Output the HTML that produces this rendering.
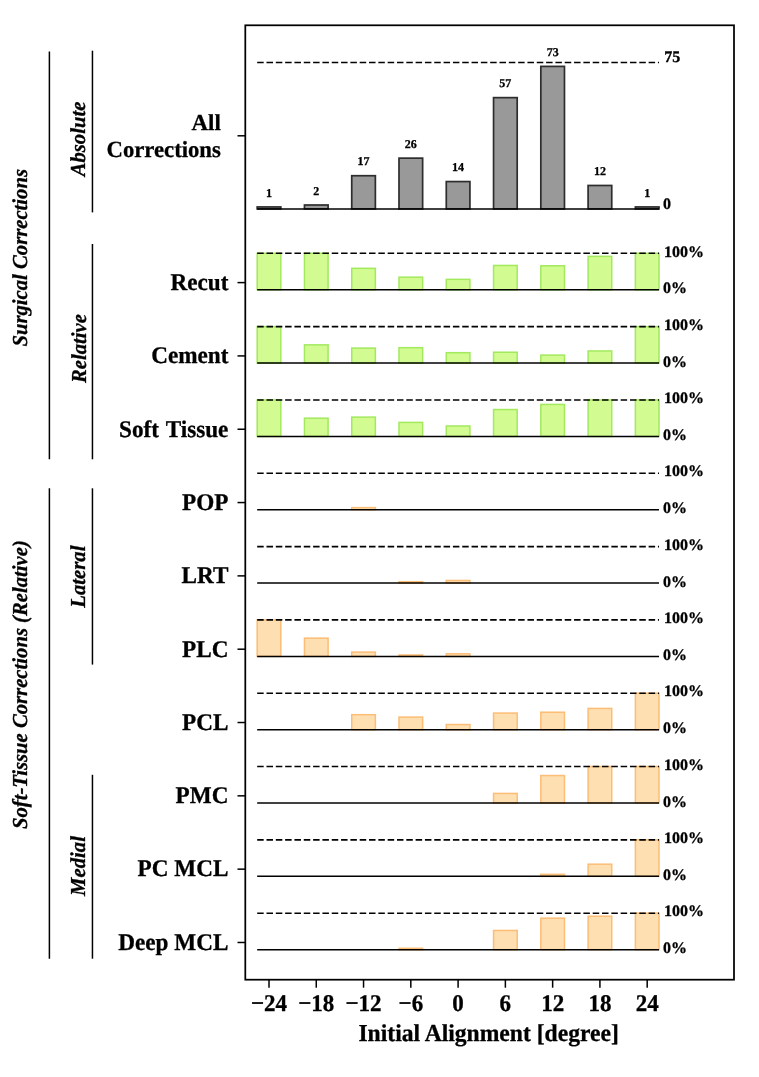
<!DOCTYPE html>
<html><head><meta charset="utf-8"><style>
html,body{margin:0;padding:0;background:#fff;}
svg{display:block;will-change:transform;}
text{font-family:"Liberation Serif",serif;font-weight:bold;fill:#000;text-rendering:geometricPrecision;stroke:#000;stroke-width:0.3px;}
.tk{font-size:23px;}
.yl{font-size:23.2px;}
.ws{word-spacing:1.3px;}
.num{font-size:12px;}
.pct{font-size:16px;}
.r75{font-size:16px;}
.r0{font-size:16px;}
.grp{font-size:20.7px;font-style:italic;}
.dash{stroke:#000;stroke-width:1.6;stroke-dasharray:6.5 2.82;}
.base{stroke:#000;stroke-width:1.5;}
</style></head><body>
<svg width="759" height="1077" viewBox="0 0 759 1077">
<rect x="245.3" y="25.3" width="488.7" height="954.4" fill="none" stroke="#000" stroke-width="1.75"/>
<line x1="269.00" y1="980" x2="269.00" y2="987.7" stroke="#000" stroke-width="1.5"/>
<text transform="translate(269.00,1011.10) scale(1,1.04)" text-anchor="middle" class="tk">−24</text>
<line x1="316.27" y1="980" x2="316.27" y2="987.7" stroke="#000" stroke-width="1.5"/>
<text transform="translate(316.27,1011.10) scale(1,1.04)" text-anchor="middle" class="tk">−18</text>
<line x1="363.55" y1="980" x2="363.55" y2="987.7" stroke="#000" stroke-width="1.5"/>
<text transform="translate(363.55,1011.10) scale(1,1.04)" text-anchor="middle" class="tk">−12</text>
<line x1="410.82" y1="980" x2="410.82" y2="987.7" stroke="#000" stroke-width="1.5"/>
<text transform="translate(410.82,1011.10) scale(1,1.04)" text-anchor="middle" class="tk">−6</text>
<line x1="458.10" y1="980" x2="458.10" y2="987.7" stroke="#000" stroke-width="1.5"/>
<text transform="translate(458.10,1011.10) scale(1,1.04)" text-anchor="middle" class="tk">0</text>
<line x1="505.37" y1="980" x2="505.37" y2="987.7" stroke="#000" stroke-width="1.5"/>
<text transform="translate(505.37,1011.10) scale(1,1.04)" text-anchor="middle" class="tk">6</text>
<line x1="552.64" y1="980" x2="552.64" y2="987.7" stroke="#000" stroke-width="1.5"/>
<text transform="translate(552.64,1011.10) scale(1,1.04)" text-anchor="middle" class="tk">12</text>
<line x1="599.92" y1="980" x2="599.92" y2="987.7" stroke="#000" stroke-width="1.5"/>
<text transform="translate(599.92,1011.10) scale(1,1.04)" text-anchor="middle" class="tk">18</text>
<line x1="647.19" y1="980" x2="647.19" y2="987.7" stroke="#000" stroke-width="1.5"/>
<text transform="translate(647.19,1011.10) scale(1,1.04)" text-anchor="middle" class="tk">24</text>
<text transform="translate(488.60,1041.30) scale(1,1.03)" text-anchor="middle" class="tk" style="font-size:23.6px">Initial Alignment [degree]</text>
<line x1="257.18" y1="62.5" x2="659.01" y2="62.5" class="dash"/>
<rect x="257.18" y="206.95" width="23.64" height="1.95" fill="#999" stroke="#2d2d2d" stroke-width="1.7"/>
<text x="269.00" y="196.65" text-anchor="middle" class="num">1</text>
<rect x="304.46" y="205.00" width="23.64" height="3.90" fill="#999" stroke="#2d2d2d" stroke-width="1.7"/>
<text x="316.27" y="194.70" text-anchor="middle" class="num">2</text>
<rect x="351.73" y="175.72" width="23.64" height="33.18" fill="#999" stroke="#2d2d2d" stroke-width="1.7"/>
<text x="363.55" y="165.42" text-anchor="middle" class="num">17</text>
<rect x="399.00" y="158.15" width="23.64" height="50.75" fill="#999" stroke="#2d2d2d" stroke-width="1.7"/>
<text x="410.82" y="147.85" text-anchor="middle" class="num">26</text>
<rect x="446.28" y="181.57" width="23.64" height="27.33" fill="#999" stroke="#2d2d2d" stroke-width="1.7"/>
<text x="458.10" y="171.27" text-anchor="middle" class="num">14</text>
<rect x="493.55" y="97.64" width="23.64" height="111.26" fill="#999" stroke="#2d2d2d" stroke-width="1.7"/>
<text x="505.37" y="87.34" text-anchor="middle" class="num">57</text>
<rect x="540.83" y="66.40" width="23.64" height="142.50" fill="#999" stroke="#2d2d2d" stroke-width="1.7"/>
<text x="552.64" y="56.10" text-anchor="middle" class="num">73</text>
<rect x="588.10" y="185.48" width="23.64" height="23.42" fill="#999" stroke="#2d2d2d" stroke-width="1.7"/>
<text x="599.92" y="175.18" text-anchor="middle" class="num">12</text>
<rect x="635.37" y="206.95" width="23.64" height="1.95" fill="#999" stroke="#2d2d2d" stroke-width="1.7"/>
<text x="647.19" y="196.65" text-anchor="middle" class="num">1</text>
<line x1="257.18" y1="208.9" x2="659.01" y2="208.9" class="base"/>
<text x="664.30" y="62.20" class="r75">75</text>
<text x="663.00" y="209.00" class="r0">0</text>
<line x1="237.5" y1="135.8" x2="245.3" y2="135.8" stroke="#000" stroke-width="1.5"/>
<text x="220.80" y="129.80" text-anchor="end" class="yl" style="font-size:22.9px">All</text>
<text transform="translate(220.80,156.80) scale(1,1.02)" text-anchor="end" class="yl" style="font-size:22.7px">Corrections</text>
<rect x="257.18" y="253.30" width="23.64" height="36.50" fill="#d2fc92" stroke="#a2e95e" stroke-width="1.5"/>
<rect x="304.46" y="253.30" width="23.64" height="36.50" fill="#d2fc92" stroke="#a2e95e" stroke-width="1.5"/>
<rect x="351.73" y="268.33" width="23.64" height="21.47" fill="#d2fc92" stroke="#a2e95e" stroke-width="1.5"/>
<rect x="399.00" y="277.17" width="23.64" height="12.63" fill="#d2fc92" stroke="#a2e95e" stroke-width="1.5"/>
<rect x="446.28" y="279.37" width="23.64" height="10.43" fill="#d2fc92" stroke="#a2e95e" stroke-width="1.5"/>
<rect x="493.55" y="265.47" width="23.64" height="24.33" fill="#d2fc92" stroke="#a2e95e" stroke-width="1.5"/>
<rect x="540.83" y="265.80" width="23.64" height="24.00" fill="#d2fc92" stroke="#a2e95e" stroke-width="1.5"/>
<rect x="588.10" y="256.34" width="23.64" height="33.46" fill="#d2fc92" stroke="#a2e95e" stroke-width="1.5"/>
<rect x="635.37" y="253.30" width="23.64" height="36.50" fill="#d2fc92" stroke="#a2e95e" stroke-width="1.5"/>
<line x1="257.18" y1="253.30" x2="659.01" y2="253.30" class="dash"/>
<line x1="257.18" y1="289.80" x2="659.01" y2="289.80" class="base"/>
<text x="664.00" y="256.50" class="pct">100%</text>
<text x="663.00" y="293.40" class="pct">0%</text>
<line x1="237.5" y1="282.60" x2="245.3" y2="282.60" stroke="#000" stroke-width="1.5"/>
<text transform="translate(228.40,289.90) scale(1,1.03)" text-anchor="end" class="yl">Recut</text>
<rect x="257.18" y="326.62" width="23.64" height="36.50" fill="#d2fc92" stroke="#a2e95e" stroke-width="1.5"/>
<rect x="304.46" y="344.87" width="23.64" height="18.25" fill="#d2fc92" stroke="#a2e95e" stroke-width="1.5"/>
<rect x="351.73" y="348.09" width="23.64" height="15.03" fill="#d2fc92" stroke="#a2e95e" stroke-width="1.5"/>
<rect x="399.00" y="347.68" width="23.64" height="15.44" fill="#d2fc92" stroke="#a2e95e" stroke-width="1.5"/>
<rect x="446.28" y="352.69" width="23.64" height="10.43" fill="#d2fc92" stroke="#a2e95e" stroke-width="1.5"/>
<rect x="493.55" y="352.23" width="23.64" height="10.89" fill="#d2fc92" stroke="#a2e95e" stroke-width="1.5"/>
<rect x="540.83" y="355.12" width="23.64" height="8.00" fill="#d2fc92" stroke="#a2e95e" stroke-width="1.5"/>
<rect x="588.10" y="350.95" width="23.64" height="12.17" fill="#d2fc92" stroke="#a2e95e" stroke-width="1.5"/>
<rect x="635.37" y="326.62" width="23.64" height="36.50" fill="#d2fc92" stroke="#a2e95e" stroke-width="1.5"/>
<line x1="257.18" y1="326.62" x2="659.01" y2="326.62" class="dash"/>
<line x1="257.18" y1="363.12" x2="659.01" y2="363.12" class="base"/>
<text x="664.00" y="329.82" class="pct">100%</text>
<text x="663.00" y="366.72" class="pct">0%</text>
<line x1="237.5" y1="355.92" x2="245.3" y2="355.92" stroke="#000" stroke-width="1.5"/>
<text transform="translate(228.40,363.22) scale(1,1.03)" text-anchor="end" class="yl">Cement</text>
<rect x="257.18" y="399.94" width="23.64" height="36.50" fill="#d2fc92" stroke="#a2e95e" stroke-width="1.5"/>
<rect x="304.46" y="418.19" width="23.64" height="18.25" fill="#d2fc92" stroke="#a2e95e" stroke-width="1.5"/>
<rect x="351.73" y="417.12" width="23.64" height="19.32" fill="#d2fc92" stroke="#a2e95e" stroke-width="1.5"/>
<rect x="399.00" y="422.40" width="23.64" height="14.04" fill="#d2fc92" stroke="#a2e95e" stroke-width="1.5"/>
<rect x="446.28" y="426.01" width="23.64" height="10.43" fill="#d2fc92" stroke="#a2e95e" stroke-width="1.5"/>
<rect x="493.55" y="409.55" width="23.64" height="26.89" fill="#d2fc92" stroke="#a2e95e" stroke-width="1.5"/>
<rect x="540.83" y="404.44" width="23.64" height="32.00" fill="#d2fc92" stroke="#a2e95e" stroke-width="1.5"/>
<rect x="588.10" y="399.94" width="23.64" height="36.50" fill="#d2fc92" stroke="#a2e95e" stroke-width="1.5"/>
<rect x="635.37" y="399.94" width="23.64" height="36.50" fill="#d2fc92" stroke="#a2e95e" stroke-width="1.5"/>
<line x1="257.18" y1="399.94" x2="659.01" y2="399.94" class="dash"/>
<line x1="257.18" y1="436.44" x2="659.01" y2="436.44" class="base"/>
<text x="664.00" y="403.14" class="pct">100%</text>
<text x="663.00" y="440.04" class="pct">0%</text>
<line x1="237.5" y1="429.24" x2="245.3" y2="429.24" stroke="#000" stroke-width="1.5"/>
<text transform="translate(228.40,436.54) scale(1,1.03)" text-anchor="end" class="yl ws">Soft Tissue</text>
<rect x="351.73" y="507.61" width="23.64" height="2.15" fill="#fedfb1" stroke="#fcbd76" stroke-width="1.5"/>
<line x1="257.18" y1="473.26" x2="659.01" y2="473.26" class="dash"/>
<line x1="257.18" y1="509.76" x2="659.01" y2="509.76" class="base"/>
<text x="664.00" y="476.46" class="pct">100%</text>
<text x="663.00" y="513.36" class="pct">0%</text>
<line x1="237.5" y1="502.56" x2="245.3" y2="502.56" stroke="#000" stroke-width="1.5"/>
<text transform="translate(228.40,509.86) scale(1,1.03)" text-anchor="end" class="yl">POP</text>
<rect x="399.00" y="581.68" width="23.64" height="1.40" fill="#fedfb1" stroke="#fcbd76" stroke-width="1.5"/>
<rect x="446.28" y="580.47" width="23.64" height="2.61" fill="#fedfb1" stroke="#fcbd76" stroke-width="1.5"/>
<line x1="257.18" y1="546.58" x2="659.01" y2="546.58" class="dash"/>
<line x1="257.18" y1="583.08" x2="659.01" y2="583.08" class="base"/>
<text x="664.00" y="549.78" class="pct">100%</text>
<text x="663.00" y="586.68" class="pct">0%</text>
<line x1="237.5" y1="575.88" x2="245.3" y2="575.88" stroke="#000" stroke-width="1.5"/>
<text transform="translate(228.40,583.18) scale(1,1.03)" text-anchor="end" class="yl">LRT</text>
<rect x="257.18" y="619.90" width="23.64" height="36.50" fill="#fedfb1" stroke="#fcbd76" stroke-width="1.5"/>
<rect x="304.46" y="638.15" width="23.64" height="18.25" fill="#fedfb1" stroke="#fcbd76" stroke-width="1.5"/>
<rect x="351.73" y="652.11" width="23.64" height="4.29" fill="#fedfb1" stroke="#fcbd76" stroke-width="1.5"/>
<rect x="399.00" y="655.00" width="23.64" height="1.40" fill="#fedfb1" stroke="#fcbd76" stroke-width="1.5"/>
<rect x="446.28" y="653.79" width="23.64" height="2.61" fill="#fedfb1" stroke="#fcbd76" stroke-width="1.5"/>
<line x1="257.18" y1="619.90" x2="659.01" y2="619.90" class="dash"/>
<line x1="257.18" y1="656.40" x2="659.01" y2="656.40" class="base"/>
<text x="664.00" y="623.10" class="pct">100%</text>
<text x="663.00" y="660.00" class="pct">0%</text>
<line x1="237.5" y1="649.20" x2="245.3" y2="649.20" stroke="#000" stroke-width="1.5"/>
<text transform="translate(228.40,656.50) scale(1,1.03)" text-anchor="end" class="yl">PLC</text>
<rect x="351.73" y="714.69" width="23.64" height="15.03" fill="#fedfb1" stroke="#fcbd76" stroke-width="1.5"/>
<rect x="399.00" y="717.09" width="23.64" height="12.63" fill="#fedfb1" stroke="#fcbd76" stroke-width="1.5"/>
<rect x="446.28" y="724.51" width="23.64" height="5.21" fill="#fedfb1" stroke="#fcbd76" stroke-width="1.5"/>
<rect x="493.55" y="713.07" width="23.64" height="16.65" fill="#fedfb1" stroke="#fcbd76" stroke-width="1.5"/>
<rect x="540.83" y="712.22" width="23.64" height="17.50" fill="#fedfb1" stroke="#fcbd76" stroke-width="1.5"/>
<rect x="588.10" y="708.43" width="23.64" height="21.29" fill="#fedfb1" stroke="#fcbd76" stroke-width="1.5"/>
<rect x="635.37" y="693.22" width="23.64" height="36.50" fill="#fedfb1" stroke="#fcbd76" stroke-width="1.5"/>
<line x1="257.18" y1="693.22" x2="659.01" y2="693.22" class="dash"/>
<line x1="257.18" y1="729.72" x2="659.01" y2="729.72" class="base"/>
<text x="664.00" y="696.42" class="pct">100%</text>
<text x="663.00" y="733.32" class="pct">0%</text>
<line x1="237.5" y1="722.52" x2="245.3" y2="722.52" stroke="#000" stroke-width="1.5"/>
<text transform="translate(228.40,729.82) scale(1,1.03)" text-anchor="end" class="yl">PCL</text>
<rect x="493.55" y="793.43" width="23.64" height="9.61" fill="#fedfb1" stroke="#fcbd76" stroke-width="1.5"/>
<rect x="540.83" y="775.54" width="23.64" height="27.50" fill="#fedfb1" stroke="#fcbd76" stroke-width="1.5"/>
<rect x="588.10" y="766.54" width="23.64" height="36.50" fill="#fedfb1" stroke="#fcbd76" stroke-width="1.5"/>
<rect x="635.37" y="766.54" width="23.64" height="36.50" fill="#fedfb1" stroke="#fcbd76" stroke-width="1.5"/>
<line x1="257.18" y1="766.54" x2="659.01" y2="766.54" class="dash"/>
<line x1="257.18" y1="803.04" x2="659.01" y2="803.04" class="base"/>
<text x="664.00" y="769.74" class="pct">100%</text>
<text x="663.00" y="806.64" class="pct">0%</text>
<line x1="237.5" y1="795.84" x2="245.3" y2="795.84" stroke="#000" stroke-width="1.5"/>
<text transform="translate(228.40,803.14) scale(1,1.03)" text-anchor="end" class="yl">PMC</text>
<rect x="540.83" y="874.36" width="23.64" height="2.00" fill="#fedfb1" stroke="#fcbd76" stroke-width="1.5"/>
<rect x="588.10" y="864.19" width="23.64" height="12.17" fill="#fedfb1" stroke="#fcbd76" stroke-width="1.5"/>
<rect x="635.37" y="839.86" width="23.64" height="36.50" fill="#fedfb1" stroke="#fcbd76" stroke-width="1.5"/>
<line x1="257.18" y1="839.86" x2="659.01" y2="839.86" class="dash"/>
<line x1="257.18" y1="876.36" x2="659.01" y2="876.36" class="base"/>
<text x="664.00" y="843.06" class="pct">100%</text>
<text x="663.00" y="879.96" class="pct">0%</text>
<line x1="237.5" y1="869.16" x2="245.3" y2="869.16" stroke="#000" stroke-width="1.5"/>
<text transform="translate(228.40,876.46) scale(1,1.03)" text-anchor="end" class="yl">PC MCL</text>
<rect x="399.00" y="948.28" width="23.64" height="1.40" fill="#fedfb1" stroke="#fcbd76" stroke-width="1.5"/>
<rect x="493.55" y="930.47" width="23.64" height="19.21" fill="#fedfb1" stroke="#fcbd76" stroke-width="1.5"/>
<rect x="540.83" y="918.18" width="23.64" height="31.50" fill="#fedfb1" stroke="#fcbd76" stroke-width="1.5"/>
<rect x="588.10" y="916.22" width="23.64" height="33.46" fill="#fedfb1" stroke="#fcbd76" stroke-width="1.5"/>
<rect x="635.37" y="913.18" width="23.64" height="36.50" fill="#fedfb1" stroke="#fcbd76" stroke-width="1.5"/>
<line x1="257.18" y1="913.18" x2="659.01" y2="913.18" class="dash"/>
<line x1="257.18" y1="949.68" x2="659.01" y2="949.68" class="base"/>
<text x="664.00" y="916.38" class="pct">100%</text>
<text x="663.00" y="953.28" class="pct">0%</text>
<line x1="237.5" y1="942.48" x2="245.3" y2="942.48" stroke="#000" stroke-width="1.5"/>
<text transform="translate(228.40,949.78) scale(1,1.03)" text-anchor="end" class="yl">Deep MCL</text>
<line x1="49.4" y1="51.5" x2="49.4" y2="459.2" stroke="#000" stroke-width="1.5"/>
<line x1="49.4" y1="488.3" x2="49.4" y2="958.7" stroke="#000" stroke-width="1.5"/>
<line x1="92.45" y1="50.7" x2="92.45" y2="212.4" stroke="#000" stroke-width="1.5"/>
<line x1="92.45" y1="244" x2="92.45" y2="459.3" stroke="#000" stroke-width="1.5"/>
<line x1="92.45" y1="488.3" x2="92.45" y2="664.6" stroke="#000" stroke-width="1.5"/>
<line x1="92.45" y1="774.8" x2="92.45" y2="958.7" stroke="#000" stroke-width="1.5"/>
<text transform="translate(26.9,257.8) rotate(-90) scale(1,1.03)" text-anchor="middle" class="grp">Surgical Corrections</text>
<text transform="translate(26.9,684.6) rotate(-90) scale(1,1.03)" text-anchor="middle" class="grp">Soft-Tissue Corrections (Relative)</text>
<text transform="translate(84.8,139) rotate(-90) scale(1,1.03)" text-anchor="middle" class="grp">Absolute</text>
<text transform="translate(85.5,348.5) rotate(-90) scale(1,1.03)" text-anchor="middle" class="grp">Relative</text>
<text transform="translate(85,576.6) rotate(-90) scale(1,1.03)" text-anchor="middle" class="grp">Lateral</text>
<text transform="translate(85,866) rotate(-90) scale(1,1.03)" text-anchor="middle" class="grp">Medial</text>
</svg>
</body></html>
